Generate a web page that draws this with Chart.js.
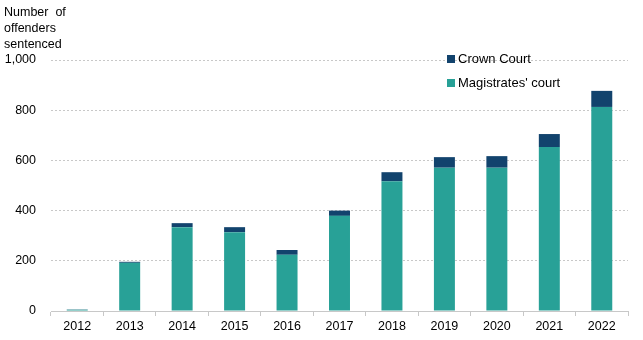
<!DOCTYPE html>
<html>
<head>
<meta charset="utf-8">
<script src="https://cdn.jsdelivr.net/npm/chart.js@4"></script>
<style>
    body { margin: 0; background: #fff; }
    #wrap { position: relative; width: 643px; height: 340px; font-family: "Liberation Sans", Arial, sans-serif; color: #000; }
    #title { position: absolute; left: 4px; top: 4px; font-size: 12.5px; line-height: 16px; }
    #legend { position: absolute; left: 447px; top: 51px; font-size: 13px; }
    .item { height: 24px; line-height: 16px; white-space: nowrap; }
    .box { display: inline-block; width: 8px; height: 8px; margin-right: 3px; vertical-align: 0px; }
</style>
</head>
<body>
<div id="wrap">
    <canvas id="sentenced" width="643" height="340"></canvas>
    <div id="title">Number&nbsp; of<br>offenders<br>sentenced</div>
    <div id="legend">
        <div class="item"><span class="box" style="background:#12436D"></span>Crown Court</div>
        <div class="item"><span class="box" style="background:#28A197"></span>Magistrates' court</div>
    </div>
</div>
<script>
    // values
    var years = ["2012", "2013", "2014", "2015", "2016", "2017", "2018", "2019", "2020", "2021", "2022"];
    var magistrates = [5, 192, 334, 314, 224, 379, 517, 571, 571, 653, 813];
    var crown = [1, 4, 16, 20, 19, 21, 36, 42, 46, 52, 64];
    var yTicks = [0, 200, 400, 600, 800, 1000];

    var gridGrey = "#c8c8c8";

    function create_chart() {
        var ctx = document.getElementById("sentenced");

        new Chart(ctx, {
            type: "bar",
            data: {
                labels: years,
                datasets: [
                    {
                        label: "Magistrates' court",
                        data: magistrates,
                        backgroundColor: "#28A197",
                        barPercentage: 1,
                        categoryPercentage: 0.4
                    },
                    {
                        label: "Crown Court",
                        data: crown,
                        backgroundColor: "#12436D",
                        barPercentage: 1,
                        categoryPercentage: 0.4
                    }
                ]
            },
            options: {
                responsive: false,
                animation: false,
                layout: { padding: { top: 60, right: 15, left: 0, bottom: 3 } },
                plugins: {
                    legend: { display: false },
                    tooltip: { enabled: false }
                },
                scales: {
                    x: {
                        stacked: true,
                        grid: { drawOnChartArea: false, drawTicks: true, tickLength: 5, color: gridGrey, offset: true },
                        border: { color: gridGrey, width: 1 },
                        ticks: { color: "#000", font: { family: "Liberation Sans", size: 12.5 }, padding: 3, maxRotation: 0 }
                    },
                    y: {
                        stacked: true,
                        min: 0,
                        max: yTicks[yTicks.length - 1],
                        afterFit: function (scale) { scale.width = 51; },
                        afterBuildTicks: function (scale) {
                            scale.ticks = yTicks.map(function (v) { return { value: v }; });
                        },
                        grid: { color: gridGrey, drawTicks: false, lineWidth: 1 },
                        border: { display: false, dash: [2, 2] },
                        ticks: {
                            color: "#000",
                            font: { family: "Liberation Sans", size: 12.5 },
                            padding: 15,
                            callback: function (v) { return v.toLocaleString("en-US"); }
                        }
                    }
                }
            }
        });
    }

    create_chart();
</script>
</body>
</html>
